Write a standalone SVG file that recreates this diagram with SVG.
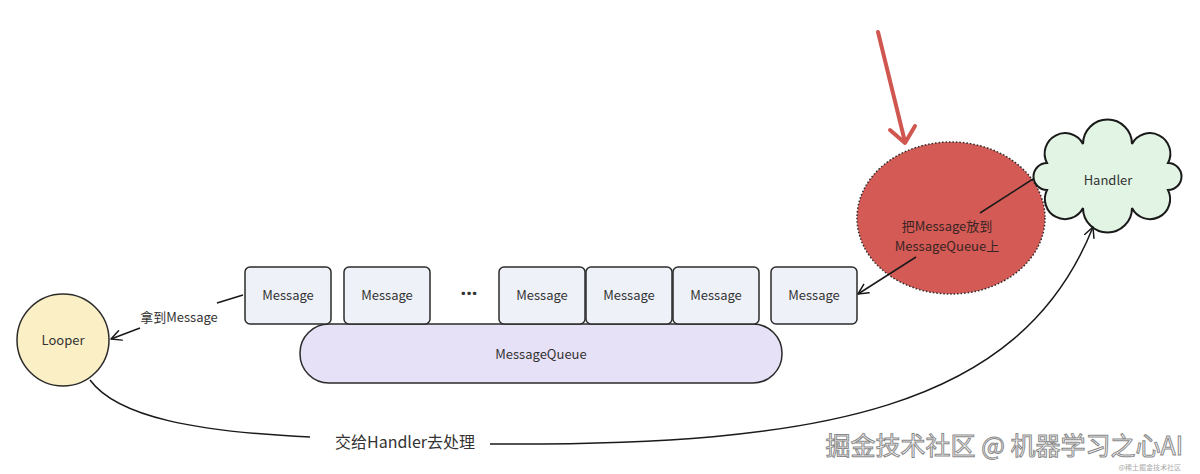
<svg xmlns="http://www.w3.org/2000/svg" width="1200" height="474" viewBox="0 0 1200 474">
<defs>
<marker id="arr" viewBox="0 0 12 12" refX="11" refY="6" markerWidth="12" markerHeight="12" markerUnits="userSpaceOnUse" orient="auto">
<path d="M1,1 L11,6 L1,11" fill="none" stroke="#1a1a1a" stroke-width="1.5" stroke-linecap="round" stroke-linejoin="round"/>
</marker>
<style>
.t{font-family:"Noto Sans CJK SC","Noto Sans",sans-serif;font-size:13px;fill:#333;text-anchor:middle}
.msg{fill:#eef1f8;stroke:#2b2b2b;stroke-width:1.5}
.ln{fill:none;stroke:#1a1a1a;stroke-width:1.5}
</style>
</defs>
<rect width="1200" height="474" fill="#ffffff"/>

<g id="red-arrow" fill="none" stroke="#d0574f" stroke-width="4" stroke-linecap="round" stroke-linejoin="round">
<path d="M878,32 L905,142"/>
<path d="M890,130 L905,143 L915,126"/>
</g>

<g id="messagequeue">
<rect x="300" y="324" width="482" height="59" rx="29" fill="#e7e1f7" stroke="#2b2b2b" stroke-width="1.5"/>
<text class="t" x="541" y="359">MessageQueue</text>
</g>

<g id="msg1"><rect class="msg" x="245" y="267" width="86" height="57" rx="5"/><text class="t" x="288" y="300">Message</text></g>
<g id="msg2"><rect class="msg" x="344" y="267" width="86" height="57" rx="5"/><text class="t" x="387" y="300">Message</text></g>
<g id="dots"><text x="469" y="300" style="font-family:'Noto Sans',sans-serif;font-size:20px;font-weight:bold;fill:#333;text-anchor:middle">···</text></g>
<g id="msg3"><rect class="msg" x="499" y="267" width="86" height="57" rx="5"/><text class="t" x="542" y="300">Message</text></g>
<g id="msg4"><rect class="msg" x="586" y="267" width="86" height="57" rx="5"/><text class="t" x="629" y="300">Message</text></g>
<g id="msg5"><rect class="msg" x="673" y="267" width="86" height="57" rx="5"/><text class="t" x="716" y="300">Message</text></g>
<g id="msg6"><rect class="msg" x="771" y="267" width="86" height="57" rx="5"/><text class="t" x="814" y="300">Message</text></g>

<g id="looper">
<circle cx="63" cy="340" r="46" fill="#fbefc6" stroke="#2b2b2b" stroke-width="1.5"/>
<text class="t" x="63" y="345">Looper</text>
</g>

<g id="put-message">
<ellipse cx="951" cy="218" rx="94" ry="76" fill="#d35a55" stroke="#2b2b2b" stroke-width="1.5" stroke-dasharray="1.5 2"/>
<text class="t" x="947" y="231" style="fill:#3a2424">把Message放到</text>
<text class="t" x="947" y="251" style="fill:#3a2424">MessageQueue上</text>
</g>

<g id="handler">
<path d="M1047,190 A13,13 0 0 1 1047,163 A20,20 0 0 1 1083,144 A24,24 0 0 1 1132,144 A20,20 0 0 1 1168,163 A13,13 0 0 1 1168,190 A20,20 0 0 1 1132,208 A24,24 0 0 1 1083,208 A20,20 0 0 1 1047,190 Z" fill="#e2f4e4" stroke="#1a1a1a" stroke-width="2"/>
<text class="t" x="1108" y="185">Handler</text>
</g>

<g id="connectors">
<path class="ln" d="M1033,179 L980,213"/>
<path class="ln" d="M916,257 L858,294" marker-end="url(#arr)"/>
<path class="ln" d="M243,295 L217,303"/>
<path class="ln" d="M140,328 L111,339" marker-end="url(#arr)"/>
<text class="t" x="179" y="322">拿到Message</text>
<path class="ln" d="M90,380 C118,418 200,432 310,437"/>
<path class="ln" d="M490,444 C820,446 1020,410 1093,227" marker-end="url(#arr)"/>
<text class="t" x="405" y="448" style="font-size:16px">交给Handler去处理</text>
</g>

<g id="watermark">
<text x="1183" y="455" style="font-family:'Noto Sans CJK SC',sans-serif;font-size:25px;fill:#ffffff;stroke:#8a8a8a;stroke-width:1;text-anchor:end">掘金技术社区 @ 机器学习之心AI</text>
<text x="1181" y="470" style="font-family:'Noto Sans CJK SC',sans-serif;font-size:7px;fill:#aaaaaa;text-anchor:end">@稀土掘金技术社区</text>
</g>
</svg>
